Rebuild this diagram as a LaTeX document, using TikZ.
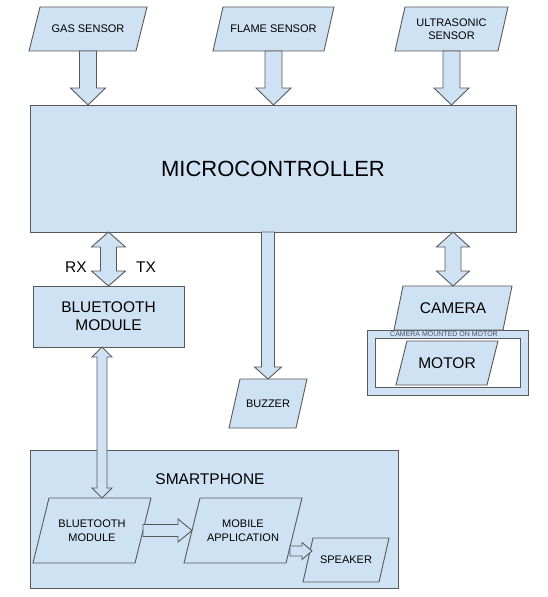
\documentclass[tikz,border=0pt]{standalone}
\usepackage{fontspec}
\setmainfont{Liberation Sans}
\usetikzlibrary{calc,positioning}
\definecolor{boxblue}{HTML}{CFE2F3}
\definecolor{edgegray}{HTML}{595959}
\definecolor{notegray}{HTML}{45506A}

% block arrow: from, to, half shaft, half head, head length
\newcommand{\blockarrow}[5]{%
  \path ($(#2)!#5!(#1)$) coordinate (hd);
  \draw[blk] ($(#1)!#3!90:(#2)$) -- ($(hd)!#3!-90:(#1)$) -- ($(hd)!#4!-90:(#1)$) -- (#2)
    -- ($(hd)!#4!90:(#1)$) -- ($(hd)!#3!90:(#1)$) -- ($(#1)!#3!-90:(#2)$) -- cycle;}
% two headed block arrow
\newcommand{\dblockarrow}[5]{%
  \path ($(#1)!#5!(#2)$) coordinate (ha) ($(#2)!#5!(#1)$) coordinate (hb);
  \draw[blk] (#1) -- ($(ha)!#4!90:(#2)$) -- ($(ha)!#3!90:(#2)$) -- ($(hb)!#3!-90:(#1)$)
    -- ($(hb)!#4!-90:(#1)$) -- (#2) -- ($(hb)!#4!90:(#1)$) -- ($(hb)!#3!90:(#1)$)
    -- ($(ha)!#3!-90:(#2)$) -- ($(ha)!#4!-90:(#2)$) -- cycle;}
% parallelogram node: [font style]{name}{x}{y}{width}{height}{skew}{text}
\newcommand{\paranode}[8][txtsmall]{%
  \draw[parashape] ({#3-#5/2},{#4+#6/2}) -- ({#3-#5/2+#7},{#4-#6/2}) -- ({#3+#5/2},{#4-#6/2})
    -- ({#3+#5/2-#7},{#4+#6/2}) -- cycle;
  \node[#1, align=center, minimum width=#5, minimum height=#6, inner sep=0pt, outer sep=0pt] (#2) at (#3,#4) {#8};}

\begin{document}
\begin{tikzpicture}[x=1pt,y=-1pt,
  box/.style={rectangle, draw=edgegray, fill=boxblue, line width=0.9pt, inner sep=0pt, outer sep=0pt, align=center},
  parashape/.style={draw=edgegray, fill=boxblue, line width=0.9pt, line join=miter},
  blk/.style={draw=edgegray, fill=boxblue, line width=0.9pt, line join=miter},
  txtsmall/.style={font=\fontsize{11}{13.5}\selectfont},
  txtbig/.style={font=\fontsize{15.5}{18}\selectfont}]
		\useasboundingbox (0,0) rectangle (547,597);

		% sensors
		\paranode{gas}{88}{29}{118}{44}{11}{GAS SENSOR}
		\paranode{flame}{273.5}{29}{121}{44}{10}{FLAME SENSOR}
		\paranode{ultra}{451.5}{29}{113}{44}{10}{ULTRASONIC\\SENSOR}

		\node[box, font=\fontsize{22}{26}\selectfont, minimum width=486, minimum height=127] (mcu) at (273,168.5) {MICROCONTROLLER};

		\node[box, txtbig, minimum width=151, minimum height=61] (bt) at (108.5,316.5) {BLUETOOTH\\MODULE};
		\node[txtbig] (rx) at (76,267) {RX};
		\node[txtbig] (tx) at (146,267) {TX};

		\paranode[txtsmall]{buzzer}{268}{403.5}{78}{49}{11}{BUZZER}

		% camera on motor
		\node[box, minimum width=161, minimum height=65] (frame) at (447.5,362.5) {};
		\node[rectangle, draw=edgegray, fill=white, line width=0.9pt, minimum width=145, minimum height=49] (inner) at (447.5,362.5) {};
		\node[font=\fontsize{7}{8}\selectfont, text=notegray, inner sep=0pt] (note) at (444,334) {CAMERA MOUNTED ON MOTOR};
		\paranode[txtbig]{motor}{447}{363}{102}{44}{11}{MOTOR}
		\paranode[txtbig]{camera}{453}{308}{118}{44}{9}{CAMERA}

		% smartphone
		\node[box, minimum width=368, minimum height=138] (phone) at (214,519) {};
		\node[txtbig] (phonetitle) at (210,479) {SMARTPHONE};
		\paranode{bt2}{92}{530.5}{118}{65}{16}{BLUETOOTH\\MODULE}
		\paranode{app}{243}{530.5}{118}{65}{16}{MOBILE\\APPLICATION}
		\paranode{spk}{346}{560}{86}{44}{10}{SPEAKER}

		% connectors
		\coordinate (g1) at (gas.south);
		\coordinate (g2) at (gas.center |- mcu.north);
		\coordinate (f1) at (flame.south);
		\coordinate (f2) at (flame.center |- mcu.north);
		\coordinate (u1) at (ultra.south);
		\coordinate (u2) at (ultra.center |- mcu.north);
		\blockarrow{g1}{g2}{8.5pt}{17.5pt}{17pt}
		\blockarrow{f1}{f2}{8.5pt}{17.5pt}{17pt}
		\blockarrow{u1}{u2}{8.5pt}{17.5pt}{17pt}

		\coordinate (m1) at (bt.north |- mcu.south);
		\dblockarrow{m1}{bt.north}{8pt}{17pt}{15pt}

		\coordinate (z1) at (buzzer.center |- mcu.south);
		\blockarrow{z1}{buzzer.north}{6.5pt}{13.5pt}{12pt}

		\coordinate (c1) at (camera.center |- mcu.south);
		\dblockarrow{c1}{camera.north}{8pt}{16.5pt}{15pt}

		\coordinate (b1) at ([xshift=-6.5pt]bt.south);
		\coordinate (b2) at (b1 |- bt2.north);
		\dblockarrow{b1}{b2}{5pt}{10pt}{10pt}

		\coordinate (p1) at ([xshift=-8pt]bt2.east);
		\coordinate (p2) at ([xshift=8pt]app.west);
		\blockarrow{p1}{p2}{6pt}{11.5pt}{14pt}

		\coordinate (a1) at (290,551);
		\coordinate (a2) at (a1 -| spk.west);
		\coordinate (a3) at ([xshift=9pt]a2);
		\blockarrow{a1}{a3}{5pt}{8.5pt}{10pt}
	\end{tikzpicture}
\end{document}
